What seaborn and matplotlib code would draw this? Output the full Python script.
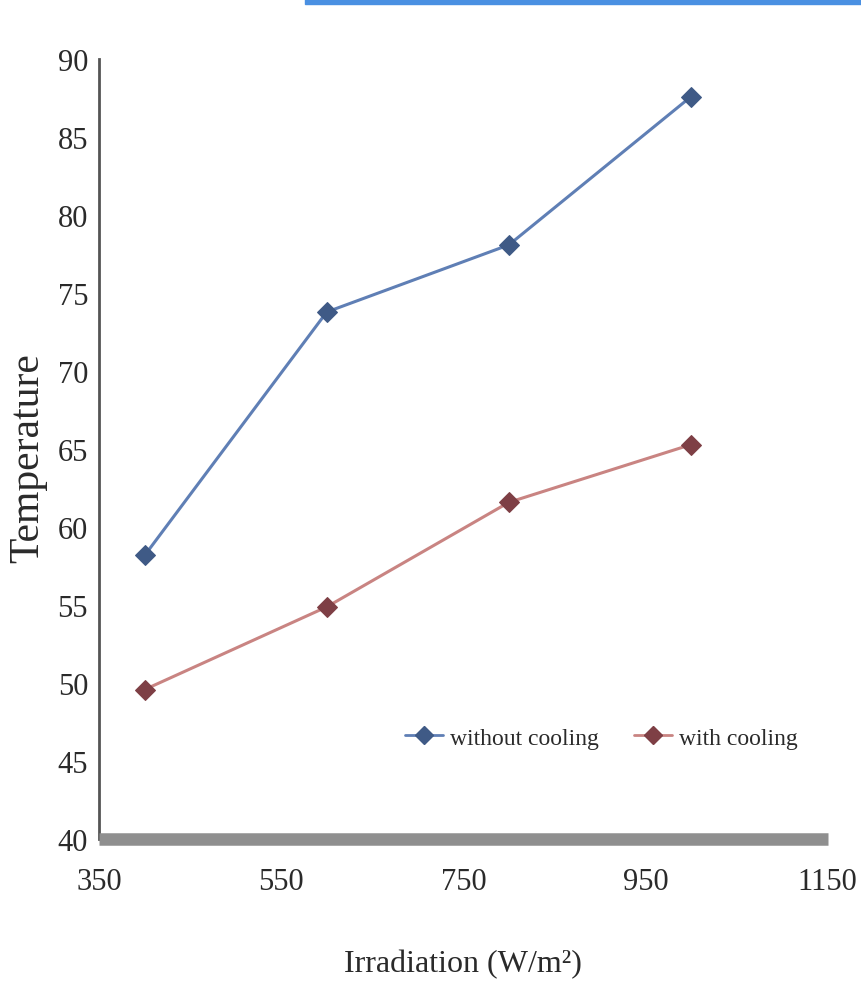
import matplotlib
matplotlib.use("Agg")
import matplotlib.pyplot as plt
import seaborn as sns
import pandas as pd
from matplotlib.patches import Rectangle
from matplotlib.lines import Line2D

# ---- data ----
irradiation = [400, 600, 800, 1000]
temp_without_cooling = [58.2, 73.8, 78.1, 87.6]
temp_with_cooling = [49.6, 54.9, 61.6, 65.3]
series_names = ["without cooling", "with cooling"]
x_ticks = [350, 550, 750, 950, 1150]
y_ticks = [40, 45, 50, 55, 60, 65, 70, 75, 80, 85, 90]

df = pd.DataFrame({
    "Irradiation": irradiation * 2,
    "Temperature": temp_without_cooling + temp_with_cooling,
    "Series": [series_names[0]] * len(irradiation) + [series_names[1]] * len(irradiation),
})

sns.set_theme(style="white")
plt.rcParams['font.family'] = ['Liberation Serif', 'DejaVu Serif']

fig = plt.figure(figsize=(8.62, 10.04), dpi=100)
ax = fig.add_axes([0.115, 0.163, 0.845, 0.777])

line_colors = {"without cooling": "#5f7fb5", "with cooling": "#c98482"}
marker_colors = {"without cooling": "#3f5a86", "with cooling": "#7e3f45"}

sns.lineplot(data=df, x="Irradiation", y="Temperature", hue="Series",
             palette=line_colors, marker="D", markersize=10, linewidth=2.2,
             ax=ax, legend=False)
for ln, name in zip(ax.lines, series_names):
    ln.set_markerfacecolor(marker_colors[name])
    ln.set_markeredgecolor(marker_colors[name])

ax.set_xlim(350, 1150)
ax.set_ylim(40, 90)
ax.set_xticks(x_ticks)
ax.set_yticks(y_ticks)
ax.tick_params(axis="both", length=0, labelsize=22, colors="#2a2a2a")
ax.tick_params(axis="x", pad=20)
ax.tick_params(axis="y", pad=8)

ax.set_xlabel("Irradiation (W/m²)", fontsize=23, color="#2a2a2a", labelpad=38)
ax.set_ylabel("Temperature", fontsize=30, color="#2a2a2a")
ax.yaxis.label.set_va("center")
ax.yaxis.set_label_coords(-0.097, 0.49)

for s in ["top", "right"]:
    ax.spines[s].set_visible(False)
ax.spines["left"].set_color("#555555")
ax.spines["left"].set_linewidth(2.0)
ax.spines["bottom"].set_color("#8f8f8f")
ax.spines["bottom"].set_linewidth(9)
ax.spines["bottom"].set_capstyle("butt")

handles = [Line2D([0], [0], color=line_colors[n], marker="D", markersize=9,
                  markerfacecolor=marker_colors[n], markeredgecolor=marker_colors[n],
                  linewidth=2) for n in series_names]
ax.legend(handles, series_names, loc="center", bbox_to_anchor=(0.69, 0.13),
          ncol=2, frameon=False, fontsize=17, handlelength=1.6,
          handletextpad=0.3, columnspacing=1.5, labelcolor="#2a2a2a")

fig.patches.append(Rectangle((305 / 862, 1 - 5 / 1004), 557 / 862, 5 / 1004,
                             transform=fig.transFigure, color="#4a90e2", zorder=10))

fig.savefig("out.png", dpi=100)
